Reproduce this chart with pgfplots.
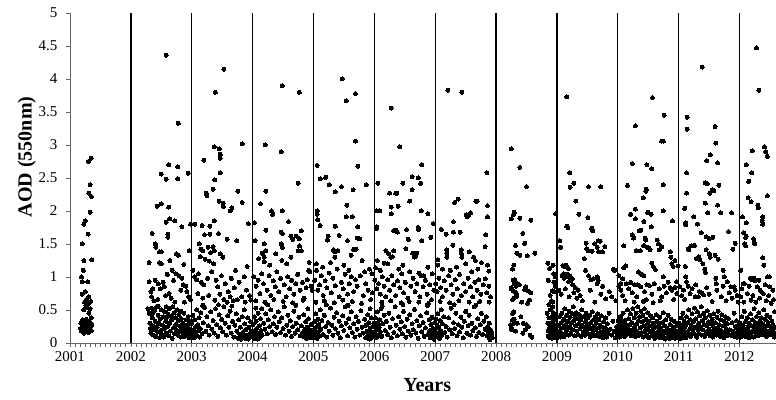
\documentclass[border=0pt]{standalone}
\usepackage{fontspec}
\setmainfont{Liberation Serif}
\usepackage{pgfplots}
\pgfplotsset{compat=1.18}
\begin{document}
\begin{tikzpicture}
\begin{axis}[
  scale only axis, width=706pt, height=330pt,
  xmin=2001, xmax=2012.6, ymin=0, ymax=5,
  axis x line*=bottom, axis y line*=left,
  axis line style={draw=black!60, line width=0.8pt},
  xtick={2001,2002,2003,2004,2005,2006,2007,2008,2009,2010,2011,2012},
  minor x tick num=11,
  ytick={0,0.5,1,1.5,2,2.5,3,3.5,4,4.5,5},
  extra x ticks={2002,2003,2004,2005,2006,2007,2008,2009,2010,2011,2012},
  extra x tick labels={},
  extra x tick style={grid=major, major grid style={draw=black, line width=1.3pt}, major tick length=0pt},
  tick align=outside,
  major tick length=4pt, minor tick length=4pt,
  every tick/.style={draw=black!60, line width=0.6pt},
  x tick label style={/pgf/number format/1000 sep={}, font=\fontsize{15}{18}\selectfont, yshift=-1pt},
  y tick label style={font=\fontsize{15}{18}\selectfont, xshift=-5pt},
  /pgf/number format/assume math mode=true,
  xlabel={\textbf{Years}},
  ylabel={\textbf{AOD (550nm)}},
  xlabel style={font=\fontsize{20}{24}\selectfont, at={(axis description cs:0.506,-0.127)}, anchor=center},
  ylabel style={font=\fontsize{20}{24}\selectfont, at={(axis description cs:-0.061,0.564)}, anchor=center},
  clip=false,
  pts/.style={only marks, mark=*, mark size=2.0pt, mark options={draw=black, fill=black, line width=0pt}},
]
\coordinate (sw) at (rel axis cs:0,0);
\coordinate (ne) at (rel axis cs:1,1);
% 2001
\addplot[pts] coordinates {(2001.35,2.80)(2001.30,2.75)(2001.33,2.40)(2001.31,2.27)(2001.35,2.22)(2001.33,1.98)(2001.25,1.85)(2001.23,1.80)(2001.30,1.65)(2001.20,1.50)(2001.23,1.25)(2001.36,1.26)(2001.22,1.10)(2001.19,1.00)(2001.20,0.93)(2001.29,0.93)(2001.25,0.78)(2001.20,0.74)(2001.31,0.70)(2001.27,0.66)(2001.24,0.62)(2001.30,0.60)(2001.34,0.63)(2001.26,0.57)(2001.28,0.54)(2001.33,0.52)(2001.23,0.50)(2001.31,0.45)(2001.35,0.38)(2001.21,0.35)(2001.27,0.36)(2001.32,0.33)(2001.18,0.30)(2001.24,0.29)(2001.29,0.30)(2001.36,0.28)(2001.20,0.26)(2001.25,0.24)(2001.34,0.25)(2001.17,0.22)(2001.22,0.21)(2001.28,0.22)(2001.31,0.20)(2001.19,0.18)(2001.26,0.17)(2001.23,0.15)(2001.30,0.16)(2001.35,0.19)(2001.21,0.24)(2001.33,0.27)};
% 2002
\addplot[pts] coordinates {(2002.58,4.36)(2002.78,3.33)(2002.62,2.70)(2002.77,2.67)(2002.94,2.57)(2002.50,2.56)(2002.58,2.48)(2002.77,2.49)(2002.50,2.11)(2002.43,2.07)(2002.62,2.06)(2002.64,1.88)(2002.72,1.85)(2002.58,1.83)(2002.84,1.76)(2002.61,1.65)(2002.61,1.60)(2002.35,1.66)(2002.40,1.50)(2002.41,1.45)(2002.47,1.38)(2002.50,1.38)(2002.75,1.35)(2002.78,1.33)(2002.64,1.25)(2002.47,1.22)(2002.50,1.20)(2002.30,1.22)(2002.87,1.19)(2002.96,1.40)(2002.98,1.80)
(2002.68,1.10)(2002.74,1.05)(2002.79,1.02)(2002.84,0.98)(2002.86,0.88)(2002.90,0.86)(2002.30,0.93)(2002.33,0.78)(2002.36,0.82)(2002.40,0.95)(2002.45,0.90)(2002.48,0.82)(2002.53,0.92)(2002.55,0.85)(2002.60,1.04)(2002.63,0.75)(2002.66,0.68)(2002.70,0.95)(2002.82,0.80)(2002.92,0.78)(2002.95,0.70)(2002.34,0.70)(2002.38,0.64)(2002.44,0.66)(2002.57,0.72)(2002.72,0.62)(2002.88,0.62)(2002.98,0.66)
(2002.28,0.52)(2002.30,0.45)(2002.31,0.30)(2002.32,0.22)(2002.33,0.15)(2002.34,0.53)(2002.35,0.38)(2002.36,0.26)(2002.37,0.12)(2002.38,0.48)(2002.39,0.20)(2002.40,0.33)(2002.41,0.10)(2002.42,0.55)(2002.43,0.24)(2002.44,0.17)(2002.45,0.42)(2002.46,0.29)(2002.47,0.08)(2002.48,0.36)(2002.49,0.19)(2002.50,0.50)(2002.51,0.13)(2002.52,0.27)(2002.53,0.40)(2002.54,0.09)(2002.55,0.22)(2002.56,0.47)(2002.57,0.33)(2002.58,0.15)(2002.59,0.39)(2002.60,0.25)(2002.61,0.44)(2002.62,0.11)(2002.63,0.52)(2002.64,0.30)(2002.65,0.18)(2002.66,0.41)(2002.67,0.35)(2002.68,0.07)(2002.69,0.55)(2002.70,0.23)(2002.71,0.46)(2002.72,0.14)(2002.73,0.38)(2002.74,0.28)(2002.75,0.20)(2002.76,0.50)(2002.77,0.12)(2002.78,0.34)(2002.79,0.43)(2002.80,0.17)(2002.81,0.26)(2002.82,0.09)(2002.83,0.37)(2002.84,0.22)(2002.85,0.30)(2002.86,0.14)(2002.87,0.45)(2002.88,0.19)(2002.89,0.27)(2002.90,0.11)(2002.91,0.35)(2002.92,0.23)(2002.93,0.16)(2002.94,0.40)(2002.95,0.29)(2002.96,0.13)(2002.97,0.21)(2002.98,0.33)(2002.99,0.18)(2002.88,0.10)(2002.93,0.26)(2002.96,0.08)(2002.82,0.48)(2002.58,0.55)(2002.45,0.56)(2002.39,0.50)(2002.35,0.44)};
% 2003
\addplot[pts] coordinates {(2003.53,4.15)(2003.39,3.80)(2003.83,3.02)(2003.37,2.97)(2003.45,2.94)(2003.47,2.86)(2003.47,2.80)(2003.20,2.77)(2003.47,2.58)(2003.38,2.47)(2003.35,2.33)(2003.76,2.30)(2003.24,2.27)(2003.25,2.23)(2003.45,2.15)(2003.83,2.13)(2003.52,2.12)(2003.52,2.07)(2003.66,2.05)(2003.63,2.00)(2003.93,1.81)(2003.05,1.80)(2003.17,1.78)(2003.30,1.77)(2003.37,1.85)(2003.44,1.66)(2003.30,1.65)(2003.21,1.64)(2003.58,1.57)(2003.74,1.55)(2003.12,1.50)(2003.15,1.42)(2003.18,1.40)(2003.27,1.45)(2003.35,1.46)(2003.37,1.40)(2003.31,1.37)(2003.47,1.35)(2003.51,1.30)(2003.14,1.31)(2003.22,1.27)(2003.29,1.24)(2003.91,1.16)(2003.36,1.20)
(2003.02,1.10)(2003.05,1.00)(2003.08,0.96)(2003.11,1.05)(2003.16,0.92)(2003.20,0.88)(2003.26,0.98)(2003.33,1.08)(2003.40,0.95)(2003.43,0.85)(2003.49,1.02)(2003.55,0.90)(2003.60,0.78)(2003.65,0.98)(2003.70,0.84)(2003.72,1.10)(2003.78,0.92)(2003.82,0.70)(2003.86,1.00)(2003.90,0.80)(2003.95,0.72)(2003.10,0.75)(2003.18,0.68)(2003.28,0.72)(2003.38,0.65)(2003.46,0.74)(2003.53,0.66)(2003.58,0.62)(2003.63,0.70)(2003.68,0.64)(2003.75,0.66)(2003.88,0.62)(2003.97,0.65)
(2003.00,0.30)(2003.01,0.12)(2003.02,0.42)(2003.03,0.20)(2003.04,0.08)(2003.05,0.35)(2003.06,0.16)(2003.07,0.25)(2003.08,0.50)(2003.09,0.11)(2003.10,0.28)(2003.11,0.19)(2003.12,0.38)(2003.13,0.09)(2003.14,0.22)(2003.15,0.46)(2003.17,0.14)(2003.19,0.31)(2003.21,0.54)(2003.23,0.18)(2003.25,0.40)(2003.27,0.26)(2003.29,0.12)(2003.31,0.47)(2003.33,0.21)(2003.35,0.34)(2003.37,0.15)(2003.39,0.52)(2003.41,0.28)(2003.43,0.10)(2003.45,0.43)(2003.47,0.23)(2003.49,0.36)(2003.51,0.17)(2003.53,0.55)(2003.55,0.30)(2003.57,0.12)(2003.59,0.41)(2003.61,0.24)(2003.63,0.48)(2003.65,0.15)(2003.67,0.33)(2003.69,0.09)(2003.71,0.27)(2003.73,0.44)(2003.74,0.18)(2003.76,0.07)(2003.77,0.35)(2003.79,0.13)(2003.80,0.24)(2003.81,0.06)(2003.83,0.40)(2003.84,0.16)(2003.85,0.10)(2003.87,0.29)(2003.88,0.07)(2003.89,0.20)(2003.91,0.12)(2003.92,0.38)(2003.93,0.06)(2003.94,0.24)(2003.95,0.14)(2003.96,0.09)(2003.97,0.32)(2003.98,0.18)(2003.99,0.11)(2003.86,0.50)(2003.66,0.56)(2003.44,0.58)(2003.18,0.57)};
% 2004
\addplot[pts] coordinates {(2004.49,3.90)(2004.77,3.80)(2004.21,3.00)(2004.47,2.90)(2004.75,2.42)(2004.22,2.30)(2004.13,2.11)(2004.31,2.00)(2004.33,1.95)(2004.49,2.00)(2004.59,1.84)(2004.03,1.82)(2004.22,1.71)(2004.47,1.68)(2004.49,1.66)(2004.63,1.62)(2004.66,1.57)(2004.72,1.62)(2004.77,1.58)(2004.80,1.70)(2004.04,1.55)(2004.19,1.50)(2004.22,1.40)(2004.16,1.36)(2004.47,1.50)(2004.49,1.45)(2004.38,1.35)(2004.77,1.47)(2004.75,1.40)(2004.80,1.40)(2004.19,1.30)(2004.19,1.23)(2004.48,1.25)(2004.56,1.20)(2004.93,1.22)(2004.92,1.10)(2004.94,1.08)(2004.10,1.28)(2004.28,1.18)(2004.63,1.30)
(2004.02,1.00)(2004.06,0.86)(2004.09,0.95)(2004.12,0.75)(2004.15,1.05)(2004.18,0.90)(2004.24,0.80)(2004.27,1.02)(2004.30,0.72)(2004.34,0.94)(2004.37,0.85)(2004.40,1.08)(2004.43,0.78)(2004.46,0.98)(2004.52,0.88)(2004.55,0.70)(2004.58,1.00)(2004.61,0.82)(2004.64,0.95)(2004.68,0.74)(2004.71,0.90)(2004.74,1.04)(2004.78,0.80)(2004.82,0.92)(2004.85,0.68)(2004.88,0.84)(2004.90,0.96)(2004.96,0.86)(2004.98,0.80)(2004.05,0.64)(2004.20,0.62)(2004.35,0.66)(2004.50,0.63)(2004.66,0.61)(2004.83,0.65)
(2004.00,0.14)(2004.01,0.28)(2004.02,0.07)(2004.03,0.40)(2004.04,0.18)(2004.05,0.10)(2004.06,0.33)(2004.07,0.22)(2004.08,0.06)(2004.09,0.45)(2004.10,0.15)(2004.11,0.26)(2004.12,0.09)(2004.13,0.37)(2004.14,0.19)(2004.15,0.52)(2004.16,0.12)(2004.18,0.30)(2004.20,0.21)(2004.22,0.44)(2004.24,0.14)(2004.26,0.35)(2004.28,0.25)(2004.30,0.50)(2004.32,0.17)(2004.34,0.29)(2004.36,0.40)(2004.38,0.13)(2004.40,0.24)(2004.42,0.47)(2004.44,0.32)(2004.46,0.16)(2004.48,0.38)(2004.50,0.22)(2004.52,0.55)(2004.54,0.12)(2004.56,0.27)(2004.58,0.42)(2004.60,0.18)(2004.62,0.34)(2004.64,0.10)(2004.66,0.25)(2004.68,0.48)(2004.70,0.15)(2004.72,0.30)(2004.74,0.20)(2004.76,0.39)(2004.78,0.11)(2004.80,0.26)(2004.82,0.16)(2004.84,0.43)(2004.85,0.09)(2004.86,0.21)(2004.87,0.32)(2004.88,0.13)(2004.89,0.07)(2004.90,0.24)(2004.91,0.16)(2004.92,0.37)(2004.93,0.10)(2004.94,0.20)(2004.95,0.08)(2004.96,0.28)(2004.97,0.14)(2004.98,0.19)(2004.99,0.09)(2004.91,0.52)(2004.71,0.57)(2004.25,0.58)(2004.05,0.53)};
% 2005
\addplot[pts] coordinates {(2005.47,4.00)(2005.54,3.67)(2005.69,3.78)(2005.69,3.06)(2005.73,2.68)(2005.06,2.69)(2005.11,2.49)(2005.20,2.51)(2005.26,2.40)(2005.46,2.37)(2005.36,2.29)(2005.65,2.32)(2005.87,2.40)(2005.55,2.09)(2005.54,1.91)(2005.64,1.91)(2005.06,2.00)(2005.06,1.95)(2005.07,1.87)(2005.11,1.78)(2005.36,1.77)(2005.73,1.76)(2005.42,1.63)(2005.76,1.58)(2005.23,1.56)(2005.24,1.62)(2005.33,1.41)(2005.35,1.38)(2005.40,1.40)(2005.35,1.30)(2005.56,1.55)(2005.72,1.59)(2005.62,1.33)(2005.66,1.42)(2005.70,1.42)(2005.92,1.12)(2005.05,1.20)(2005.15,1.15)(2005.28,1.22)(2005.50,1.18)(2005.58,1.10)(2005.80,1.25)(2005.84,1.08)(2005.96,1.05)
(2005.02,0.95)(2005.05,1.10)(2005.07,0.80)(2005.10,0.88)(2005.13,1.02)(2005.16,0.72)(2005.19,0.94)(2005.22,0.84)(2005.26,1.06)(2005.29,0.76)(2005.32,0.98)(2005.36,0.87)(2005.39,1.12)(2005.42,0.70)(2005.46,0.92)(2005.49,0.82)(2005.52,1.04)(2005.56,0.74)(2005.59,0.90)(2005.62,1.00)(2005.66,0.78)(2005.69,0.96)(2005.72,0.86)(2005.77,1.02)(2005.82,0.72)(2005.86,0.90)(2005.90,0.80)(2005.94,0.66)(2005.97,0.76)(2005.04,0.62)(2005.18,0.64)(2005.34,0.61)(2005.48,0.65)(2005.64,0.63)(2005.79,0.60)
(2005.00,0.20)(2005.01,0.09)(2005.02,0.32)(2005.03,0.14)(2005.04,0.44)(2005.05,0.24)(2005.06,0.07)(2005.07,0.36)(2005.08,0.17)(2005.09,0.28)(2005.10,0.11)(2005.11,0.50)(2005.12,0.21)(2005.14,0.34)(2005.16,0.13)(2005.18,0.42)(2005.20,0.25)(2005.22,0.09)(2005.24,0.31)(2005.26,0.18)(2005.28,0.53)(2005.30,0.27)(2005.32,0.12)(2005.34,0.39)(2005.36,0.22)(2005.38,0.46)(2005.40,0.15)(2005.42,0.33)(2005.44,0.08)(2005.46,0.26)(2005.48,0.41)(2005.50,0.19)(2005.52,0.55)(2005.54,0.30)(2005.56,0.11)(2005.58,0.37)(2005.60,0.23)(2005.62,0.47)(2005.64,0.16)(2005.66,0.29)(2005.68,0.09)(2005.70,0.40)(2005.72,0.21)(2005.74,0.33)(2005.76,0.12)(2005.78,0.49)(2005.80,0.24)(2005.82,0.15)(2005.84,0.36)(2005.86,0.08)(2005.87,0.27)(2005.88,0.18)(2005.89,0.43)(2005.90,0.11)(2005.91,0.31)(2005.92,0.06)(2005.93,0.22)(2005.94,0.14)(2005.95,0.38)(2005.96,0.09)(2005.97,0.25)(2005.98,0.16)(2005.99,0.30)(2005.93,0.52)(2005.57,0.57)(2005.21,0.58)};
% 2006
\addplot[pts] coordinates {(2006.28,3.56)(2006.42,2.97)(2006.78,2.70)(2006.06,2.42)(2006.47,2.42)(2006.62,2.52)(2006.72,2.50)(2006.76,2.42)(2006.25,2.27)(2006.35,2.27)(2006.37,2.27)(2006.62,2.32)(2006.58,2.15)(2006.04,2.00)(2006.09,2.00)(2006.28,2.06)(2006.39,2.07)(2006.77,2.00)(2006.88,1.96)(2006.97,1.81)(2006.04,1.76)(2006.03,1.73)
(2006.28,1.96)(2006.53,1.72)(2006.32,1.70)(2006.35,1.71)(2006.38,1.68)(2006.72,1.75)(2006.73,1.72)(2006.56,1.57)(2006.78,1.55)(2006.93,1.60)(2006.19,1.40)(2006.24,1.35)(2006.27,1.30)(2006.32,1.40)(2006.30,1.31)(2006.52,1.43)(2006.63,1.36)(2006.68,1.32)(2006.70,1.36)(2006.66,1.30)(2006.16,1.21)(2006.22,1.20)(2006.47,1.18)(2006.73,1.06)(2006.77,1.02)(2006.81,1.02)(2006.02,1.14)(2006.05,1.25)(2006.10,1.10)(2006.40,1.12)(2006.58,1.08)(2006.88,1.15)(2006.95,1.05)
(2006.01,0.95)(2006.04,0.82)(2006.07,0.90)(2006.10,0.74)(2006.13,1.00)(2006.16,0.86)(2006.19,0.70)(2006.22,0.96)(2006.25,0.80)(2006.29,1.02)(2006.32,0.88)(2006.35,0.72)(2006.38,0.94)(2006.42,0.84)(2006.45,1.05)(2006.48,0.76)(2006.51,0.92)(2006.55,0.68)(2006.60,0.86)(2006.64,0.98)(2006.67,0.78)(2006.70,0.90)(2006.75,0.70)(2006.80,0.85)(2006.84,0.95)(2006.87,0.74)(2006.91,0.88)(2006.94,0.66)(2006.98,0.80)(2006.12,0.62)(2006.27,0.64)(2006.44,0.61)(2006.57,0.63)(2006.73,0.62)(2006.89,0.60)
(2006.00,0.26)(2006.01,0.14)(2006.02,0.38)(2006.03,0.08)(2006.04,0.20)(2006.05,0.47)(2006.06,0.30)(2006.07,0.12)(2006.08,0.24)(2006.09,0.35)(2006.10,0.17)(2006.11,0.52)(2006.12,0.10)(2006.14,0.29)(2006.16,0.42)(2006.18,0.19)(2006.20,0.33)(2006.22,0.13)(2006.24,0.45)(2006.26,0.24)(2006.28,0.08)(2006.30,0.37)(2006.32,0.16)(2006.34,0.55)(2006.36,0.27)(2006.38,0.11)(2006.40,0.40)(2006.42,0.21)(2006.44,0.32)(2006.46,0.14)(2006.48,0.48)(2006.50,0.25)(2006.52,0.09)(2006.54,0.36)(2006.56,0.18)(2006.58,0.43)(2006.60,0.12)(2006.62,0.29)(2006.64,0.20)(2006.66,0.51)(2006.68,0.15)(2006.70,0.34)(2006.72,0.07)(2006.74,0.26)(2006.76,0.41)(2006.78,0.17)(2006.80,0.31)(2006.82,0.10)(2006.84,0.23)(2006.86,0.46)(2006.88,0.13)(2006.90,0.35)(2006.91,0.19)(2006.92,0.08)(2006.93,0.28)(2006.94,0.15)(2006.95,0.39)(2006.96,0.11)(2006.97,0.22)(2006.98,0.06)(2006.99,0.31)(2006.87,0.57)(2006.47,0.58)(2006.13,0.56)};
% 2007
\addplot[pts] coordinates {(2007.21,3.83)(2007.44,3.80)(2007.85,2.58)(2007.32,2.13)(2007.38,2.18)(2007.69,2.15)(2007.67,2.15)(2007.86,2.08)(2007.86,1.91)(2007.55,1.94)(2007.58,1.97)(2007.51,1.94)(2007.53,1.91)(2007.30,1.84)(2007.10,1.72)(2007.18,1.65)(2007.30,1.68)(2007.41,1.68)(2007.83,1.64)(2007.82,1.46)(2007.19,1.41)(2007.19,1.36)(2007.19,1.30)(2007.29,1.48)(2007.43,1.41)(2007.43,1.36)(2007.44,1.30)(2007.56,1.38)(2007.63,1.30)(2007.04,1.26)(2007.04,1.18)(2007.86,1.18)(2007.88,1.09)(2007.12,1.12)(2007.25,1.10)(2007.35,1.15)(2007.50,1.20)(2007.60,1.08)(2007.70,1.12)(2007.76,1.22)(2007.66,1.25)
(2007.01,0.90)(2007.03,0.78)(2007.06,0.98)(2007.09,0.84)(2007.12,0.70)(2007.15,0.94)(2007.18,0.80)(2007.22,1.02)(2007.26,0.88)(2007.29,0.74)(2007.33,0.96)(2007.36,0.82)(2007.40,1.04)(2007.43,0.72)(2007.47,0.90)(2007.50,0.78)(2007.54,0.98)(2007.58,0.85)(2007.62,0.70)(2007.65,0.92)(2007.69,0.80)(2007.72,0.96)(2007.75,0.74)(2007.79,0.88)(2007.82,0.97)(2007.85,0.76)(2007.88,0.86)(2007.91,0.70)(2007.08,0.63)(2007.24,0.61)(2007.39,0.64)(2007.56,0.62)(2007.73,0.63)(2007.89,0.62)
(2007.00,0.18)(2007.01,0.36)(2007.02,0.10)(2007.03,0.27)(2007.04,0.44)(2007.05,0.15)(2007.06,0.23)(2007.07,0.07)(2007.08,0.34)(2007.09,0.19)(2007.10,0.50)(2007.11,0.12)(2007.12,0.29)(2007.14,0.40)(2007.16,0.16)(2007.18,0.25)(2007.20,0.09)(2007.22,0.38)(2007.24,0.20)(2007.26,0.53)(2007.28,0.14)(2007.30,0.31)(2007.32,0.22)(2007.34,0.45)(2007.36,0.11)(2007.38,0.28)(2007.40,0.17)(2007.42,0.39)(2007.44,0.24)(2007.46,0.08)(2007.48,0.33)(2007.50,0.48)(2007.52,0.15)(2007.54,0.26)(2007.56,0.42)(2007.58,0.12)(2007.60,0.30)(2007.62,0.19)(2007.64,0.55)(2007.66,0.23)(2007.68,0.10)(2007.70,0.37)(2007.72,0.16)(2007.74,0.28)(2007.76,0.45)(2007.78,0.13)(2007.80,0.33)(2007.82,0.21)(2007.84,0.40)(2007.85,0.11)(2007.86,0.25)(2007.87,0.17)(2007.88,0.09)(2007.89,0.30)(2007.90,0.14)(2007.91,0.20)(2007.92,0.10)(2007.93,0.16)(2007.94,0.08)(2007.88,0.12)(2007.91,0.07)(2007.93,0.12)(2007.90,0.05)(2007.67,0.57)(2007.31,0.58)};
% 2008
\addplot[pts] coordinates {(2008.25,2.94)(2008.39,2.66)(2008.50,2.37)(2008.30,1.98)(2008.29,1.95)(2008.25,1.88)(2008.39,1.89)(2008.57,1.86)(2008.44,1.66)(2008.32,1.48)(2008.47,1.51)(2008.64,1.36)(2008.39,1.33)(2008.34,1.36)(2008.51,1.32)(2008.27,1.12)(2008.29,1.18)
(2008.28,0.95)(2008.31,0.96)(2008.30,0.90)(2008.33,0.91)(2008.36,0.90)(2008.38,0.88)(2008.33,0.86)(2008.25,0.84)(2008.25,0.82)(2008.49,0.85)(2008.52,0.79)(2008.47,0.81)(2008.28,0.79)(2008.32,0.77)(2008.34,0.73)(2008.57,0.76)(2008.29,0.68)(2008.33,0.70)(2008.27,0.66)(2008.42,0.62)
(2008.27,0.45)(2008.29,0.47)(2008.27,0.35)(2008.25,0.24)(2008.30,0.36)(2008.24,0.28)(2008.29,0.30)(2008.45,0.30)(2008.48,0.20)(2008.50,0.28)(2008.53,0.25)(2008.56,0.12)(2008.59,0.09)(2008.35,0.30)(2008.41,0.40)(2008.26,0.20)(2008.32,0.18)(2008.44,0.15)(2008.52,0.60)(2008.55,0.65)
(2008.85,1.21)(2008.88,1.13)(2008.94,1.18)(2008.98,1.96)(2008.95,1.05)(2008.97,1.00)(2008.95,0.92)(2008.97,0.86)(2008.92,0.79)(2008.95,0.78)(2008.86,0.95)(2008.89,0.72)(2008.91,0.64)(2008.93,0.55)
(2008.84,0.45)(2008.85,0.30)(2008.86,0.18)(2008.86,0.10)(2008.87,0.38)(2008.88,0.24)(2008.88,0.13)(2008.89,0.50)(2008.89,0.08)(2008.90,0.28)(2008.90,0.16)(2008.91,0.40)(2008.91,0.11)(2008.92,0.22)(2008.92,0.07)(2008.93,0.33)(2008.93,0.14)(2008.94,0.46)(2008.94,0.19)(2008.95,0.10)(2008.95,0.27)(2008.96,0.36)(2008.96,0.13)(2008.97,0.21)(2008.97,0.08)(2008.98,0.42)(2008.98,0.15)(2008.99,0.25)(2008.99,0.11)(2008.87,0.58)(2008.93,0.62)};
% 2009
\addplot[pts] coordinates {(2009.16,3.73)(2009.21,2.58)(2009.28,2.42)(2009.22,2.36)(2009.31,2.15)(2009.52,2.37)(2009.72,2.37)(2009.36,1.95)(2009.51,1.90)(2009.16,1.77)(2009.18,1.75)(2009.57,1.74)(2009.59,1.70)(2009.68,1.55)(2009.71,1.54)(2009.62,1.50)(2009.48,1.51)(2009.05,1.55)(2009.79,1.46)
(2009.06,1.45)(2009.10,1.17)(2009.12,1.16)(2009.15,1.18)(2009.19,1.13)(2009.11,1.05)(2009.09,1.02)(2009.12,0.98)(2009.17,1.04)(2009.19,1.00)(2009.21,1.02)(2009.23,0.95)(2009.19,0.93)(2009.25,0.97)(2009.26,0.88)(2009.49,1.43)(2009.51,1.40)(2009.58,1.39)(2009.66,1.45)(2009.69,1.38)(2009.75,1.38)(2009.45,1.28)(2009.47,1.10)(2009.52,1.02)(2009.56,0.96)(2009.60,0.97)(2009.66,1.00)(2009.68,0.95)(2009.66,0.90)(2009.75,0.86)(2009.93,1.12)(2009.95,1.10)(2009.03,0.80)(2009.07,0.74)(2009.14,0.82)(2009.20,0.70)(2009.28,0.76)(2009.33,0.68)(2009.38,0.72)(2009.42,0.64)(2009.55,0.80)(2009.62,0.62)(2009.72,0.74)(2009.80,0.67)(2009.86,0.78)(2009.90,0.70)(2009.97,0.64)(2009.30,0.84)(2009.35,0.80)
(2009.00,0.15)(2009.01,0.08)(2009.02,0.26)(2009.03,0.12)(2009.04,0.40)(2009.05,0.19)(2009.06,0.09)(2009.07,0.31)(2009.08,0.45)(2009.09,0.14)(2009.10,0.23)(2009.11,0.36)(2009.12,0.10)(2009.13,0.52)(2009.14,0.28)(2009.15,0.17)(2009.16,0.42)(2009.17,0.21)(2009.18,0.33)(2009.19,0.12)(2009.20,0.48)(2009.21,0.25)(2009.22,0.39)(2009.23,0.15)(2009.24,0.30)(2009.25,0.44)(2009.26,0.20)(2009.27,0.55)(2009.28,0.34)(2009.29,0.11)(2009.30,0.41)(2009.31,0.26)(2009.32,0.46)(2009.33,0.18)(2009.34,0.37)(2009.35,0.13)(2009.36,0.29)(2009.37,0.43)(2009.38,0.22)(2009.39,0.35)(2009.40,0.10)(2009.41,0.50)(2009.42,0.27)(2009.43,0.16)(2009.44,0.40)(2009.45,0.24)(2009.46,0.12)(2009.47,0.33)(2009.48,0.45)(2009.49,0.19)(2009.50,0.28)(2009.51,0.38)(2009.52,0.14)(2009.53,0.25)(2009.54,0.42)(2009.55,0.09)(2009.56,0.31)(2009.57,0.21)(2009.58,0.47)(2009.59,0.16)(2009.60,0.35)(2009.61,0.26)(2009.62,0.11)(2009.63,0.40)(2009.64,0.20)(2009.65,0.30)(2009.66,0.13)(2009.67,0.44)(2009.68,0.23)(2009.69,0.35)(2009.70,0.10)(2009.71,0.27)(2009.72,0.17)(2009.73,0.41)(2009.74,0.13)(2009.75,0.24)(2009.76,0.08)(2009.77,0.32)(2009.78,0.19)(2009.79,0.12)(2009.80,0.38)(2009.81,0.22)(2009.82,0.09)(2009.83,0.29)(2009.84,0.15)(2009.86,0.45)(2009.88,0.21)(2009.90,0.12)(2009.92,0.33)(2009.94,0.18)(2009.96,0.08)(2009.98,0.25)(2009.99,0.14)};
% 2010
\addplot[pts] coordinates {(2010.57,3.72)(2010.29,3.29)(2010.76,3.45)(2010.72,3.06)(2010.75,3.06)(2010.24,2.72)(2010.48,2.70)(2010.56,2.64)(2010.16,2.39)(2010.75,2.40)(2010.47,2.33)(2010.46,2.30)(2010.42,2.20)(2010.29,2.03)(2010.21,1.95)(2010.29,1.88)(2010.49,1.98)(2010.55,1.95)(2010.75,2.00)(2010.90,1.85)(2010.24,1.64)(2010.38,1.71)(2010.43,1.84)(2010.10,1.47)(2010.13,1.17)(2010.10,1.14)(2010.08,0.97)(2010.26,1.59)(2010.30,1.40)(2010.35,1.70)(2010.37,1.40)(2010.43,1.47)(2010.45,1.59)(2010.46,1.56)(2010.44,1.47)(2010.48,1.45)(2010.51,1.44)(2010.53,1.41)(2010.55,1.76)(2010.65,1.56)(2010.67,1.50)(2010.68,1.41)(2010.72,1.46)(2010.56,1.21)(2010.58,1.16)(2010.62,1.11)(2010.86,1.38)(2010.87,1.30)(2010.89,1.20)(2010.91,1.16)(2010.94,1.25)(2010.75,1.00)(2010.34,1.08)(2010.38,1.04)(2010.43,1.02)(2010.33,0.88)(2010.48,0.88)(2010.86,0.84)(2010.94,0.84)(2010.97,0.93)(2010.99,1.17)(2010.02,1.02)(2010.05,0.90)
(2010.02,0.85)(2010.05,0.80)(2010.08,0.72)(2010.14,0.90)(2010.18,0.82)(2010.21,0.92)(2010.24,0.76)(2010.28,0.88)(2010.31,0.70)(2010.38,0.85)(2010.44,0.78)(2010.47,0.66)(2010.52,0.87)(2010.56,0.74)(2010.60,0.90)(2010.68,0.82)(2010.72,0.70)(2010.76,0.86)(2010.80,0.76)(2010.83,0.92)(2010.89,0.80)(2010.97,0.75)(2010.12,0.64)(2010.27,0.62)(2010.42,0.63)(2010.58,0.61)(2010.70,0.64)(2010.92,0.66)
(2010.00,0.22)(2010.01,0.12)(2010.01,0.33)(2010.02,0.18)(2010.03,0.28)(2010.03,0.09)(2010.04,0.40)(2010.05,0.15)(2010.05,0.25)(2010.06,0.35)(2010.07,0.11)(2010.07,0.20)(2010.08,0.30)(2010.09,0.16)(2010.09,0.45)(2010.10,0.24)(2010.11,0.10)(2010.12,0.34)(2010.13,0.19)(2010.14,0.27)(2010.15,0.13)(2010.16,0.50)(2010.17,0.22)(2010.18,0.37)(2010.19,0.15)(2010.20,0.28)(2010.21,0.44)(2010.22,0.11)(2010.23,0.31)(2010.24,0.20)(2010.25,0.52)(2010.26,0.16)(2010.27,0.38)(2010.28,0.25)(2010.29,0.10)(2010.30,0.45)(2010.31,0.29)(2010.32,0.18)(2010.33,0.55)(2010.34,0.34)(2010.35,0.12)(2010.36,0.40)(2010.37,0.23)(2010.38,0.48)(2010.39,0.16)(2010.40,0.32)(2010.41,0.42)(2010.42,0.09)(2010.43,0.26)(2010.44,0.52)(2010.45,0.19)(2010.46,0.36)(2010.47,0.13)(2010.48,0.28)(2010.49,0.46)(2010.50,0.21)(2010.51,0.08)(2010.52,0.33)(2010.53,0.17)(2010.54,0.41)(2010.55,0.26)(2010.56,0.11)(2010.57,0.38)(2010.58,0.20)(2010.59,0.14)(2010.60,0.30)(2010.61,0.07)(2010.62,0.24)(2010.63,0.43)(2010.64,0.16)(2010.65,0.33)(2010.66,0.10)(2010.67,0.27)(2010.68,0.19)(2010.69,0.39)(2010.70,0.08)(2010.71,0.22)(2010.72,0.14)(2010.73,0.31)(2010.74,0.09)(2010.75,0.46)(2010.76,0.18)(2010.77,0.26)(2010.78,0.06)(2010.79,0.35)(2010.80,0.15)(2010.81,0.22)(2010.82,0.10)(2010.83,0.42)(2010.84,0.17)(2010.85,0.07)(2010.86,0.28)(2010.87,0.13)(2010.88,0.36)(2010.89,0.20)(2010.90,0.09)(2010.91,0.24)(2010.92,0.14)(2010.93,0.33)(2010.94,0.07)(2010.95,0.19)(2010.96,0.11)(2010.97,0.27)(2010.98,0.08)(2010.99,0.16)};
% 2011
\addplot[pts] coordinates {(2011.39,4.18)(2011.14,3.42)(2011.14,3.24)(2011.60,3.28)(2011.61,3.03)(2011.52,2.85)(2011.46,2.76)(2011.64,2.73)(2011.13,2.58)(2011.13,2.27)(2011.44,2.43)(2011.47,2.41)(2011.51,2.27)(2011.58,2.31)(2011.66,2.39)(2011.44,2.12)(2011.10,2.04)(2011.12,1.82)(2011.12,1.79)(2011.25,1.91)(2011.31,1.80)(2011.37,1.67)(2011.48,1.97)(2011.55,2.32)(2011.64,2.09)(2011.69,1.97)(2011.82,1.69)(2011.87,1.97)(2011.93,1.51)(2011.89,1.42)(2011.45,1.61)(2011.50,1.58)(2011.56,1.60)(2011.45,1.41)(2011.50,1.35)(2011.52,1.30)(2011.60,1.33)(2011.65,1.27)(2011.16,1.43)(2011.17,1.41)(2011.21,1.47)(2011.26,1.48)(2011.29,1.28)(2011.33,1.31)(2011.11,1.16)(2011.12,1.00)(2011.13,0.93)(2011.16,0.86)(2011.35,1.26)(2011.40,1.20)(2011.43,1.12)(2011.44,1.07)(2011.61,0.98)(2011.62,0.90)(2011.73,1.10)(2011.75,1.00)(2011.80,0.93)(2011.86,0.85)(2011.91,0.85)(2011.38,0.76)(2011.41,0.73)(2011.27,0.70)(2011.32,0.70)
(2011.02,0.85)(2011.05,0.72)(2011.08,0.80)(2011.10,0.66)(2011.19,0.75)(2011.22,0.82)(2011.28,0.88)(2011.34,0.78)(2011.46,0.84)(2011.50,0.74)(2011.55,0.63)(2011.63,0.80)(2011.70,0.70)(2011.73,0.86)(2011.78,0.64)(2011.83,0.76)(2011.88,0.68)(2011.93,0.80)(2011.96,0.72)(2011.98,0.62)
(2011.00,0.18)(2011.01,0.10)(2011.01,0.30)(2011.02,0.14)(2011.03,0.24)(2011.03,0.07)(2011.04,0.38)(2011.05,0.19)(2011.05,0.11)(2011.06,0.28)(2011.07,0.15)(2011.07,0.45)(2011.08,0.09)(2011.09,0.22)(2011.09,0.33)(2011.10,0.13)(2011.11,0.26)(2011.12,0.08)(2011.13,0.40)(2011.14,0.17)(2011.15,0.31)(2011.16,0.12)(2011.17,0.50)(2011.18,0.21)(2011.19,0.35)(2011.20,0.10)(2011.21,0.27)(2011.22,0.44)(2011.23,0.16)(2011.24,0.32)(2011.25,0.22)(2011.26,0.53)(2011.27,0.13)(2011.28,0.37)(2011.29,0.25)(2011.30,0.09)(2011.31,0.47)(2011.32,0.19)(2011.33,0.30)(2011.34,0.14)(2011.35,0.41)(2011.36,0.24)(2011.37,0.55)(2011.38,0.12)(2011.39,0.34)(2011.40,0.20)(2011.41,0.45)(2011.42,0.28)(2011.43,0.10)(2011.44,0.38)(2011.45,0.17)(2011.46,0.26)(2011.47,0.49)(2011.48,0.14)(2011.49,0.32)(2011.50,0.21)(2011.51,0.42)(2011.52,0.11)(2011.53,0.29)(2011.54,0.18)(2011.55,0.36)(2011.56,0.09)(2011.57,0.25)(2011.58,0.44)(2011.59,0.15)(2011.60,0.31)(2011.61,0.20)(2011.62,0.12)(2011.63,0.39)(2011.64,0.23)(2011.65,0.48)(2011.66,0.16)(2011.67,0.28)(2011.68,0.10)(2011.69,0.35)(2011.70,0.19)(2011.71,0.43)(2011.72,0.13)(2011.73,0.26)(2011.74,0.08)(2011.75,0.33)(2011.76,0.17)(2011.77,0.40)(2011.78,0.22)(2011.79,0.11)(2011.80,0.29)(2011.81,0.15)(2011.82,0.37)(2011.84,0.20)(2011.86,0.12)(2011.88,0.31)(2011.90,0.18)(2011.91,0.45)(2011.92,0.10)(2011.93,0.25)(2011.94,0.15)(2011.95,0.34)(2011.96,0.09)(2011.97,0.21)(2011.98,0.13)(2011.99,0.28)};
% 2012
\addplot[pts] coordinates {(2012.28,4.47)(2012.32,3.83)(2012.41,2.97)(2012.43,2.90)(2012.46,2.83)(2012.21,2.91)(2012.11,2.70)(2012.20,2.58)(2012.15,2.45)(2012.14,2.20)(2012.19,2.14)(2012.30,2.09)(2012.31,2.05)(2012.46,2.23)(2012.38,1.91)(2012.37,1.85)(2012.38,1.80)(2012.05,1.91)(2012.11,1.82)(2012.07,1.67)(2012.10,1.60)(2012.11,1.62)(2012.23,1.58)(2012.25,1.50)(2012.24,1.53)(2012.09,1.50)(2012.10,1.47)(2012.38,1.29)(2012.40,1.18)(2012.18,0.98)(2012.20,0.96)(2012.24,0.98)(2012.26,0.94)(2012.32,0.95)(2012.46,1.00)(2012.49,1.00)(2012.02,1.10)(2012.06,0.90)(2012.08,0.90)(2012.34,0.80)(2012.36,0.78)(2012.50,0.85)(2012.55,0.80)(2012.58,0.47)
(2012.02,0.70)(2012.04,0.82)(2012.07,0.62)(2012.13,0.75)(2012.16,0.86)(2012.19,0.65)(2012.22,0.72)(2012.27,0.62)(2012.29,0.85)(2012.33,0.68)(2012.39,0.75)(2012.42,0.88)(2012.44,0.64)(2012.48,0.72)(2012.52,0.60)(2012.56,0.66)
(2012.00,0.16)(2012.01,0.30)(2012.02,0.09)(2012.03,0.22)(2012.04,0.40)(2012.05,0.13)(2012.06,0.27)(2012.07,0.18)(2012.08,0.48)(2012.09,0.10)(2012.10,0.33)(2012.11,0.21)(2012.12,0.14)(2012.13,0.38)(2012.14,0.25)(2012.15,0.08)(2012.16,0.30)(2012.17,0.17)(2012.18,0.44)(2012.19,0.12)(2012.20,0.26)(2012.21,0.35)(2012.22,0.19)(2012.23,0.09)(2012.24,0.52)(2012.25,0.23)(2012.26,0.31)(2012.27,0.14)(2012.28,0.40)(2012.29,0.20)(2012.30,0.27)(2012.31,0.11)(2012.32,0.46)(2012.33,0.33)(2012.34,0.17)(2012.35,0.24)(2012.36,0.38)(2012.37,0.13)(2012.38,0.29)(2012.39,0.20)(2012.40,0.50)(2012.41,0.15)(2012.42,0.36)(2012.43,0.25)(2012.44,0.10)(2012.45,0.42)(2012.46,0.18)(2012.47,0.31)(2012.48,0.12)(2012.49,0.26)(2012.50,0.39)(2012.51,0.15)(2012.52,0.22)(2012.53,0.33)(2012.54,0.12)(2012.55,0.28)(2012.56,0.17)(2012.57,0.09)(2012.58,0.24)(2012.59,0.14)};
\end{axis}
\pgfresetboundingbox
\path[use as bounding box] ([shift={(-70pt,-57pt)}]sw) rectangle ([shift={(0pt,13pt)}]ne);
\end{tikzpicture}
\end{document}
